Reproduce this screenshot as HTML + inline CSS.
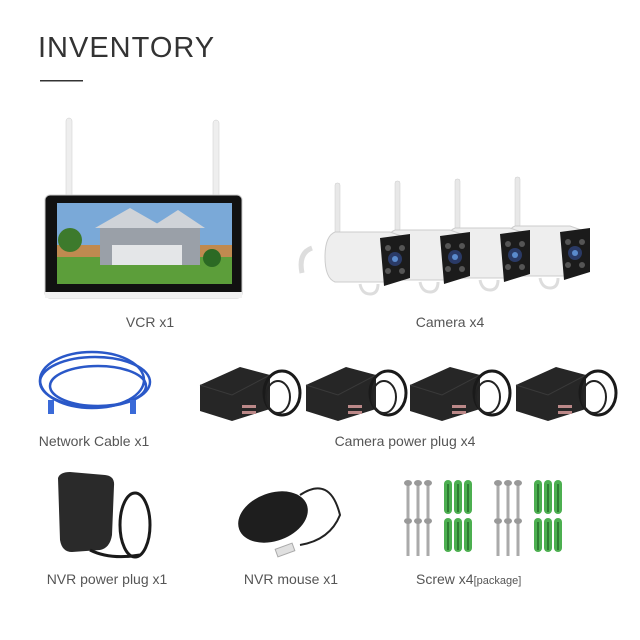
<!DOCTYPE html>
<html><head><meta charset="utf-8"><style>
body{margin:0;background:#fff}
svg{display:block}
text{font-family:"Liberation Sans",sans-serif;fill:#555}
</style></head><body>
<svg width="640" height="640" viewBox="0 0 640 640" xmlns="http://www.w3.org/2000/svg">
<defs>
<g id="cam">
<rect x="0" y="-45" width="5" height="50" rx="2" fill="#e8e8e8" stroke="#ccc" stroke-width=".5"/>
<path d="M0 4 H55 L72 10 V46 L60 54 H0 Q-10 50 -10 29 Q-10 8 0 4Z" fill="#eeeeee" stroke="#ccc"/>
<path d="M45 10 L75 6 V50 L49 58Z" fill="#1b1b1b"/>
<circle cx="60" cy="31" r="7" fill="#2a3a66"/><circle cx="60" cy="31" r="3" fill="#5a8acc"/>
<circle cx="53" cy="20" r="3" fill="#555"/><circle cx="67" cy="20" r="3" fill="#555"/><circle cx="53" cy="43" r="3" fill="#555"/><circle cx="67" cy="43" r="3" fill="#555"/>
<path d="M25 56 q2 10 10 10 q8 0 8 -10" fill="none" stroke="#ddd" stroke-width="3"/>
</g>
<g id="plug">
<path d="M0 20 L40 2 L70 10 L70 44 L32 56 L0 46Z" fill="#262626"/>
<path d="M0 20 L32 30 L70 10" fill="none" stroke="#3a3a3a"/>
<ellipse cx="82" cy="28" rx="18" ry="22" fill="none" stroke="#1a1a1a" stroke-width="3"/>
<ellipse cx="78" cy="32" rx="12" ry="16" fill="none" stroke="#222" stroke-width="2"/>
<rect x="42" y="40" width="14" height="3" fill="#b88"/><rect x="42" y="46" width="14" height="3" fill="#b88"/>
</g>
<g id="screw"><rect x="-1.5" y="4" width="3" height="34" fill="#aaa"/><ellipse cx="0" cy="3" rx="4" ry="3" fill="#999"/></g>
<g id="anc"><rect x="-4" y="0" width="8" height="34" rx="4" fill="#4caf50"/><rect x="-1" y="4" width="2" height="28" fill="#2e7d32"/></g>
<g id="set"><use href="#screw" x="0"/><use href="#screw" x="10"/><use href="#screw" x="20"/><use href="#anc" x="40"/><use href="#anc" x="50"/><use href="#anc" x="60"/></g>
</defs>
<text x="38" y="57" font-size="29" style="fill:#333;letter-spacing:1px">INVENTORY</text>
<rect x="40" y="80" width="43" height="1.5" fill="#333"/>
<!-- monitor -->
<rect x="66" y="118" width="6" height="80" rx="3" fill="#eee" stroke="#ccc" stroke-width=".5"/>
<rect x="213" y="120" width="6" height="78" rx="3" fill="#eee" stroke="#ccc" stroke-width=".5"/>
<rect x="45" y="195" width="197" height="103" rx="5" fill="#111" stroke="#ccc"/>
<rect x="57" y="203" width="175" height="81" fill="#7aa9d8"/>
<rect x="57" y="255" width="175" height="29" fill="#5c9e3a"/>
<rect x="57" y="245" width="175" height="12" fill="#c08a50"/>
<rect x="100" y="225" width="100" height="40" fill="#9aa0a8"/>
<polygon points="95,228 130,208 165,228" fill="#cfd3d8"/><polygon points="150,228 178,210 205,228" fill="#cfd3d8"/>
<rect x="112" y="245" width="70" height="20" fill="#e4e6e8"/>
<circle cx="70" cy="240" r="12" fill="#3d7a2c"/><circle cx="212" cy="258" r="9" fill="#2c6a24"/>
<rect x="45" y="292" width="197" height="6" fill="#f2f2f2"/>
<!-- cameras (back to front) -->
<use href="#cam" x="515" y="222"/><use href="#cam" x="455" y="224"/><use href="#cam" x="395" y="226"/><use href="#cam" x="335" y="228"/>
<path d="M312 248 q-14 5 -10 25" fill="none" stroke="#ddd" stroke-width="5"/>
<text x="150" y="327" font-size="14" text-anchor="middle">VCR x1</text>
<text x="450" y="327" font-size="14" text-anchor="middle">Camera x4</text>
<!-- cable -->
<g fill="none" stroke="#2a58c8" stroke-width="2.5">
<ellipse cx="95" cy="382" rx="55" ry="25"/><ellipse cx="98" cy="386" rx="48" ry="20"/><ellipse cx="92" cy="380" rx="52" ry="28"/>
</g>
<rect x="48" y="400" width="6" height="14" fill="#3a6ad8"/><rect x="130" y="400" width="6" height="14" fill="#3a6ad8"/>
<use href="#plug" x="200" y="365"/><use href="#plug" x="306" y="365"/><use href="#plug" x="410" y="365"/><use href="#plug" x="516" y="365"/>
<text x="94" y="446" font-size="14" text-anchor="middle">Network Cable x1</text>
<text x="405" y="446" font-size="14" text-anchor="middle">Camera power plug x4</text>
<!-- nvr plug -->
<path d="M58 478 Q60 472 70 472 L105 475 Q115 476 114 486 L112 535 Q110 548 100 550 L72 552 Q62 552 60 540Z" fill="#2a2a2a"/>
<ellipse cx="135" cy="525" rx="15" ry="32" fill="none" stroke="#1a1a1a" stroke-width="3"/>
<path d="M90 550 q20 10 50 5" fill="none" stroke="#1a1a1a" stroke-width="3"/>
<!-- mouse -->
<ellipse cx="273" cy="517" rx="36" ry="24" transform="rotate(-20 273 517)" fill="#1e1e1e"/>
<path d="M300 495 q30 -20 40 20 q-10 25 -40 30" fill="none" stroke="#222" stroke-width="2"/>
<rect x="276" y="546" width="18" height="8" fill="#e0e0e0" stroke="#aaa" transform="rotate(-20 285 550)"/>
<!-- screws -->
<use href="#set" x="408" y="480"/><use href="#set" x="498" y="480"/>
<use href="#set" x="408" y="518"/><use href="#set" x="498" y="518"/>
<text x="107" y="584" font-size="14" text-anchor="middle">NVR power plug x1</text>
<text x="291" y="584" font-size="14" text-anchor="middle">NVR mouse x1</text>
<text x="416" y="584" font-size="14">Screw x4<tspan font-size="11">[package]</tspan></text>
</svg>
</body></html>
